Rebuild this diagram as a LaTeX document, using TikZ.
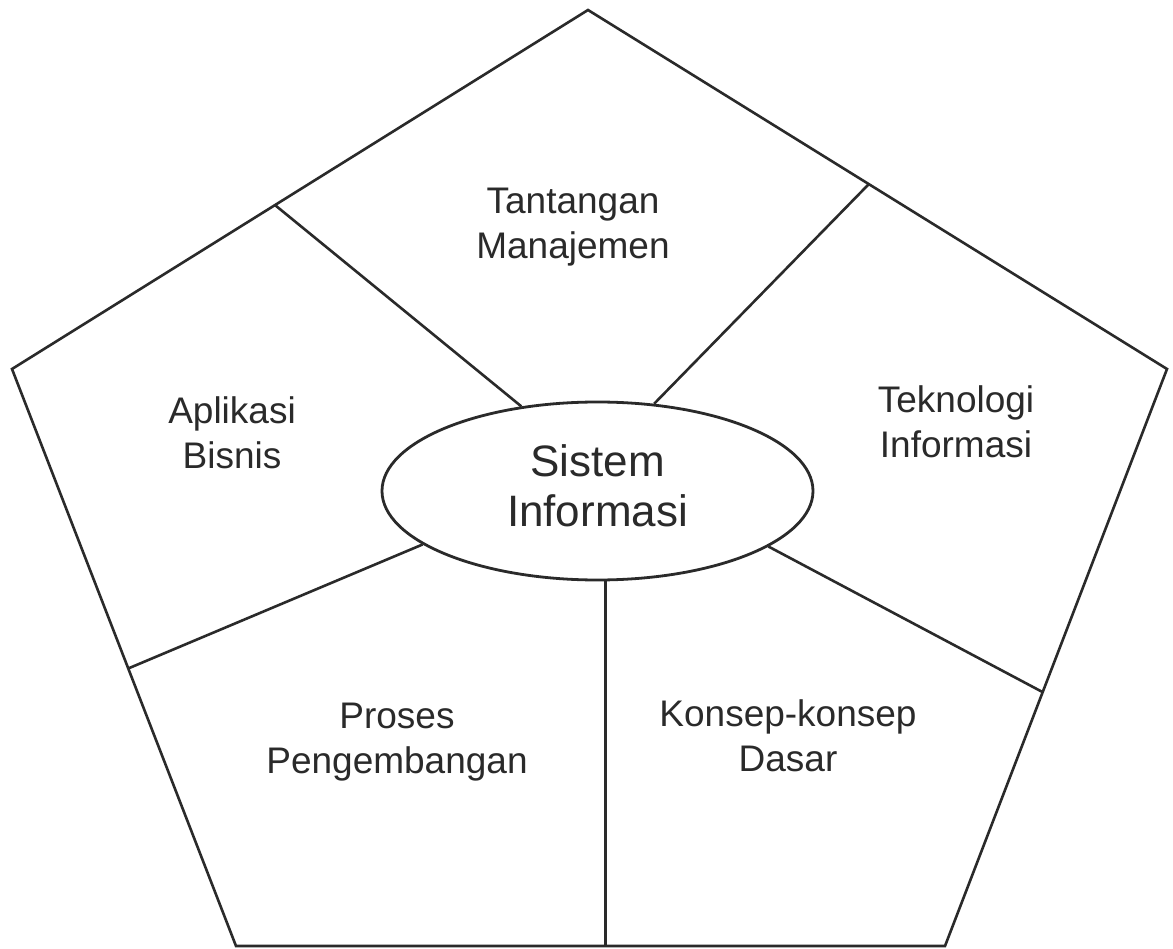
\documentclass[tikz,border=0pt]{standalone}
\usepackage{fontspec}
\setmainfont{Liberation Sans}
\usetikzlibrary{shapes.geometric,calc}
\definecolor{ink}{HTML}{2A2A2A}
\begin{document}
\begin{tikzpicture}[x=1pt,y=-1pt,
  edge/.style={draw=ink,line width=2.6pt,line join=miter},
  lbl/.style={align=center,anchor=base,text=ink,inner sep=0pt,font=\fontsize{37}{45}\selectfont},
  core/.style={ellipse,draw=ink,line width=2.8pt,fill=white,minimum width=431pt,minimum height=178pt,inner sep=0pt,align=center,text=ink,font=\fontsize{44}{50}\selectfont}]
\useasboundingbox (0,0) rectangle (1173,949);
\fill[white] (0,0) rectangle (1173,949);
% pentagon vertices
\coordinate (T) at (588,10);
\coordinate (R) at (1167,369);
\coordinate (BR) at (945,946);
\coordinate (BL) at (236,946);
\coordinate (L) at (12,369);
% split points on the outline
\coordinate (sUL) at ($(L)!0.4566!(T)$);
\coordinate (sUR) at ($(R)!0.515!(T)$);
\coordinate (sLL) at ($(L)!0.519!(BL)$);
\coordinate (sLR) at ($(R)!0.56!(BR)$);
\draw[edge] (T) -- (R) -- (BR) -- (BL) -- (L) -- cycle;
\node[core] (e) at (597.5,491) {\raisebox{4pt}{\begin{tabular}{@{}c@{}}Sistem\\Informasi\end{tabular}}};
\coordinate (eB) at (e.-85);
\draw[edge] (sUL) -- (e.132);
\draw[edge] (sUR) -- (e.57.8);
\draw[edge] (sLL) -- (e.197.7);
\draw[edge] (sLR) -- (e.-18.2);
\draw[edge] (eB) -- (eB |- BL);
% labels (anchor = baseline of last line)
\node[lbl] (tm) at (573,259) {Tantangan\\Manajemen};
\node[lbl] (ab) at (232,468) {Aplikasi\\Bisnis};
\node[lbl] (ti) at (956,457) {Teknologi\\Informasi};
\node[lbl] (pp) at (397,773) {Proses\\Pengembangan};
\node[lbl] (kd) at (788,771) {Konsep-konsep\\Dasar};
\end{tikzpicture}
\end{document}
